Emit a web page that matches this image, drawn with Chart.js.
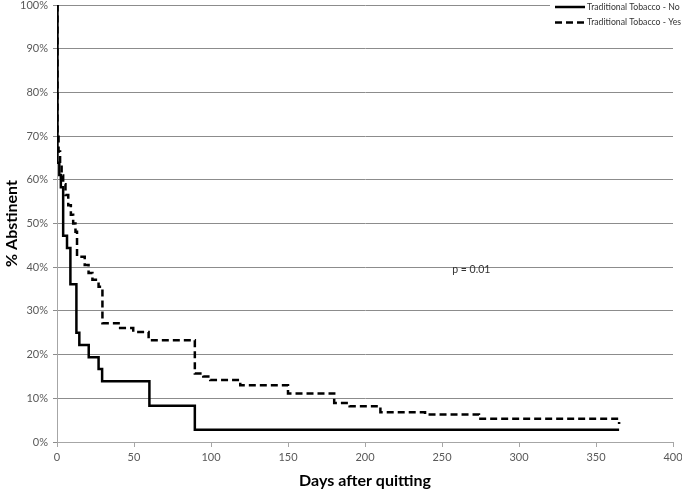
<!DOCTYPE html>
<html lang="en">
<head>
    <meta charset="UTF-8">
    <title>Abstinence after quitting</title>
    <script src="https://cdn.jsdelivr.net/npm/chart.js"></script>
    <style>
        html, body { margin: 0; padding: 0; background: #fff; }
        #wrap { width: 682px; height: 492px; }
    </style>
</head>
<body>
    <div id="wrap"><canvas id="kmChart" width="682" height="492"></canvas></div>
    <script>
    // Kaplan-Meier style curves (days, % abstinent)
    const noDays = [0, 0.3, 1.5, 2.5, 4, 6.5, 8.7, 12.6, 14.5, 20.6, 27, 29.3, 60, 89.5, 365];
    const noPct  = [100, 63.9, 61.1, 58.3, 47.2, 44.4, 36.1, 25.0, 22.2, 19.4, 16.7, 13.9, 8.3, 2.8, 2.8];

    const yesDays = [0, 0.3, 1, 2, 3, 4, 5.5, 7.3, 9, 10.5, 12, 13, 18, 20.5, 23, 27, 29.5, 41, 49.5, 59.5, 89.5, 95, 99.5, 119, 150, 180, 190, 210, 239, 274, 365];
    const yesPct  = [100, 70.7, 66.5, 63.5, 61, 59, 56.5, 54.2, 52, 50, 48.1, 42.4, 40.5, 38.7, 37.1, 35.5, 27.2, 26.1, 25.2, 23.3, 15.7, 15.0, 14.2, 13.0, 11.1, 8.9, 8.2, 6.8, 6.3, 5.3, 4.1];

    const seriesNames = ['Traditional Tobacco - No', 'Traditional Tobacco - Yes'];
    const pLabel = 'p = 0.01';

    const toPoints = (xs, ys) => xs.map((x, i) => ({ x: x, y: ys[i] }));
    const fontFamily = 'Lato, "Open Sans", "Liberation Sans", sans-serif';

    // petite légende dessinée à la main, en haut à droite
    const legendPlugin = {
        id: 'cornerLegend',
        afterDraw(chart) {
            const ctx = chart.ctx;
            ctx.save();
            ctx.fillStyle = '#ffffff';
            ctx.fillRect(550, 0, 132, 31);
            chart.data.datasets.forEach((ds, i) => {
                const y = 7 + i * 15.5;
                ctx.strokeStyle = '#000';
                ctx.lineWidth = 2.5;
                ctx.setLineDash(ds.borderDash || []);
                ctx.beginPath();
                ctx.moveTo(555, y);
                ctx.lineTo(585, y);
                ctx.stroke();
                ctx.setLineDash([]);
                ctx.fillStyle = '#333';
                ctx.font = '8.7px ' + fontFamily;
                ctx.textBaseline = 'middle';
                ctx.fillText(ds.label, 587, y);
            });
            ctx.restore();
        }
    };

    const pValuePlugin = {
        id: 'pValue',
        afterDatasetsDraw(chart) {
            const ctx = chart.ctx;
            const x = chart.scales.x.getPixelForValue(269);
            const y = chart.scales.y.getPixelForValue(39.4);
            ctx.save();
            ctx.fillStyle = '#333';
            ctx.font = '10.5px ' + fontFamily;
            ctx.textAlign = 'center';
            ctx.textBaseline = 'middle';
            ctx.fillText(pLabel, x, y);
            ctx.restore();
        }
    };

    document.addEventListener('DOMContentLoaded', function() {
        new Chart(document.getElementById('kmChart').getContext('2d'), {
            type: 'line',
            data: {
                datasets: [{
                    label: seriesNames[0],
                    data: toPoints(noDays, noPct),
                    borderColor: '#000',
                    borderWidth: 2.5,
                    pointRadius: 0,
                    stepped: 'before',
                    fill: false
                }, {
                    label: seriesNames[1],
                    data: toPoints(yesDays, yesPct),
                    borderColor: '#000',
                    borderWidth: 2.5,
                    borderDash: [7, 4],
                    pointRadius: 0,
                    stepped: 'before',
                    fill: false
                }]
            },
            options: {
                responsive: false,
                animation: false,
                layout: { padding: { top: 5, right: 9, left: 0, bottom: 0 } },
                plugins: {
                    legend: { display: false },
                    tooltip: { enabled: false }
                },
                scales: {
                    x: {
                        type: 'linear',
                        min: 0,
                        max: 400,
                        ticks: {
                            stepSize: 50,
                            color: '#595959',
                            font: { family: fontFamily, size: 11 },
                            padding: 4,
                            maxRotation: 0
                        },
                        grid: { display: true, drawOnChartArea: false, color: '#a6a6a6', tickLength: 5 },
                        border: { color: '#a6a6a6' },
                        title: {
                            display: true,
                            text: 'Days after quitting',
                            color: '#000',
                            font: { family: fontFamily, size: 16, weight: 'bold' },
                            padding: { top: 12, bottom: 2 }
                        },
                        afterFit: function(s) { s.height = 50; s.paddingRight = 0; s.paddingLeft = 0; }
                    },
                    y: {
                        min: 0,
                        max: 100,
                        ticks: {
                            stepSize: 10,
                            color: '#595959',
                            font: { family: fontFamily, size: 11 },
                            padding: 5,
                            callback: v => v + '%'
                        },
                        grid: { color: '#8c8c8c', tickLength: 4 },
                        border: { color: '#a6a6a6' },
                        title: {
                            display: true,
                            text: '% Abstinent',
                            color: '#000',
                            font: { family: fontFamily, size: 16, weight: 'bold' },
                            padding: { top: 2, bottom: 4 }
                        },
                        afterFit: function(s) { s.width = 57; s.paddingTop = 0; s.paddingBottom = 0; }
                    }
                }
            },
            plugins: [pValuePlugin, legendPlugin]
        });
    });
    </script>
</body>
</html>
